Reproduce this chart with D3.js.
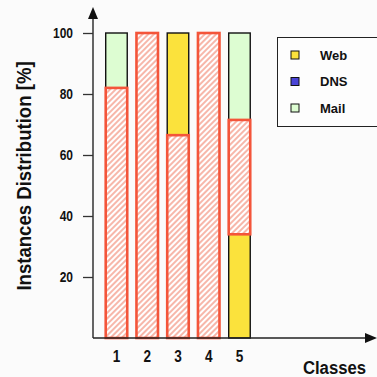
<!DOCTYPE html>
<html><head><meta charset="utf-8">
<script src="https://cdn.jsdelivr.net/npm/d3@7"></script>
<style>
html,body{margin:0;padding:0;background:#fbfbfb;}
svg{display:block;}
</style></head>
<body>
<script>
const classes = ["1","2","3","4","5"];
const seriesNames = ["Web","DNS","Mail","Other"];
const webValues   = [0, 0, 33.5, 0, 34];
const dnsValues   = [0, 0, 0, 0, 0];
const mailValues  = [18, 0, 0, 0, 28.5];
const otherValues = [82, 100, 66.5, 100, 37.5];
// stacking order, bottom to top, for each class
const stackOrder = [["Other","Mail"],["Other"],["Other","Web"],["Other"],["Web","Other","Mail"]];
const yTicks = [20, 40, 60, 80, 100];
const legendNames = ["Web","DNS","Mail"];
const colors = {Web:"#fbe23c", DNS:"#4a44d6", Mail:"#ddfdd2"};

const values = {Web:webValues, DNS:dnsValues, Mail:mailValues, Other:otherValues};
const FONT = "'Liberation Sans',Arial,sans-serif";

const W = 377, H = 377;
const svg = d3.select("body").append("svg").attr("width", W).attr("height", H);

const defs = svg.append("defs");
const pat = defs.append("pattern").attr("id","hatch").attr("patternUnits","userSpaceOnUse")
  .attr("width",4).attr("height",4).attr("patternTransform","rotate(45)");
pat.append("rect").attr("width",4).attr("height",4).attr("fill","#ffffff");
pat.append("line").attr("x1",1).attr("y1",0).attr("x2",1).attr("y2",4)
  .attr("stroke","#f6a595").attr("stroke-width",1.6);

const x0 = 93, yBase = 338;
const x = d3.scaleBand().domain(classes).range([101.1, 254.85]).paddingInner(0.3).paddingOuter(0.15);
const y = d3.scaleLinear().domain([0, 100]).range([yBase, 33]);

// build segments
const segments = [];
classes.forEach((c, i) => {
  let acc = 0;
  stackOrder[i].forEach(name => {
    const v = values[name][i];
    if (v > 0) segments.push({cls:c, name, y0:acc, y1:acc+v});
    acc += v;
  });
});

const g = svg.append("g");
g.selectAll("rect.plain").data(segments.filter(s => s.name !== "Other")).join("rect")
  .attr("class","plain")
  .attr("x", d => x(d.cls)).attr("width", x.bandwidth())
  .attr("y", d => y(d.y1)).attr("height", d => y(d.y0) - y(d.y1))
  .attr("fill", d => colors[d.name]).attr("stroke","#111").attr("stroke-width",1.4);
g.selectAll("rect.hatch").data(segments.filter(s => s.name === "Other")).join("rect")
  .attr("class","hatch")
  .attr("x", d => x(d.cls)).attr("width", x.bandwidth())
  .attr("y", d => y(d.y1)).attr("height", d => y(d.y0) - y(d.y1))
  .attr("fill", "url(#hatch)").attr("stroke","#f4553a").attr("stroke-width",2.6);

// y axis
const yAxis = d3.axisLeft(y).tickValues(yTicks).tickSizeInner(10).tickSizeOuter(0).tickPadding(10);
const ya = svg.append("g").attr("transform", `translate(${x0},0)`).call(yAxis);
ya.select(".domain").remove();
ya.selectAll(".tick line").attr("stroke","#333").attr("stroke-width",1.3);
ya.selectAll(".tick text").attr("font-family",FONT)
  .attr("font-weight","bold").attr("font-size","15px").attr("fill","#111")
  .attr("x", -20/0.8).attr("transform","scale(0.8,1)");
svg.append("line").attr("x1",x0).attr("x2",x0).attr("y1",yBase).attr("y2",16)
  .attr("stroke","#333").attr("stroke-width",1.5);
svg.append("path").attr("d",`M${x0-5},19 L${x0},7 L${x0+5},19 Z`).attr("fill","#111");

// x axis
const xAxis = d3.axisBottom(x).tickSize(0).tickPadding(13);
const xa = svg.append("g").attr("transform", `translate(0,${yBase})`).call(xAxis);
xa.select(".domain").remove();
xa.selectAll(".tick text").attr("font-family",FONT)
  .attr("font-weight","bold").attr("font-size","16px").attr("fill","#111")
  .attr("transform","scale(0.85,1)");
svg.append("line").attr("x1",x0).attr("x2",368).attr("y1",yBase).attr("y2",yBase)
  .attr("stroke","#222").attr("stroke-width",1.5);
svg.append("path").attr("d",`M365,${yBase-5} L377,${yBase} L365,${yBase+5} Z`).attr("fill","#111");

// axis titles
svg.append("text").attr("transform","translate(31,176) rotate(-90) scale(0.93,1)")
  .attr("text-anchor","middle")
  .attr("font-family",FONT)
  .attr("font-weight","bold").attr("font-size","20px").attr("fill","#111")
  .text("Instances Distribution [%]");
svg.append("text").attr("transform","translate(334.5,374) scale(0.88,1)").attr("text-anchor","middle")
  .attr("font-family",FONT)
  .attr("font-weight","bold").attr("font-size","19px").attr("fill","#111")
  .text("Classes");

// legend
const lg = svg.append("g");
lg.append("rect").attr("x",277.5).attr("y",37.5).attr("width",110).attr("height",89)
  .attr("fill","#fdfdfd").attr("stroke","#222").attr("stroke-width",1);
const ly = d3.scalePoint().domain(legendNames).range([55, 108]);
const items = lg.selectAll("g.item").data(legendNames).join("g").attr("class","item")
  .attr("transform", d => `translate(0,${ly(d)})`);
items.append("rect").attr("x",291).attr("y",-4).attr("width",8).attr("height",8)
  .attr("fill", d => colors[d]).attr("stroke","#111").attr("stroke-width",1);
items.append("text").attr("x",320).attr("y",0).attr("dy","0.36em")
  .attr("font-family",FONT)
  .attr("font-weight","bold").attr("font-size","13px").attr("fill","#111")
  .text(d => d);
</script>
</body></html>
